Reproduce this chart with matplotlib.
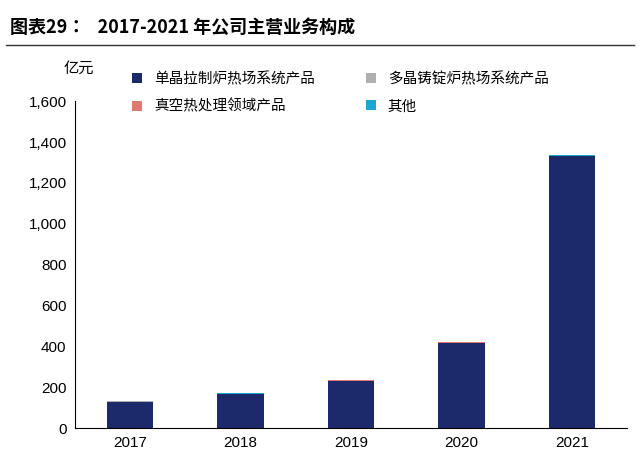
import matplotlib.pyplot as plt
import numpy as np
from matplotlib import font_manager
avail = {f.name for f in font_manager.fontManager.ttflist}
cjk = [n for n in ['Noto Sans CJK SC', 'Noto Sans CJK JP', 'Noto Sans CJK TC', 'Noto Sans CJK KR'] if n in avail]
plt.rcParams['font.family'] = cjk + ['DejaVu Sans']

years = ['2017', '2018', '2019', '2020', '2021']
mono = [130, 168, 232, 418, 1333]
poly = [1, 1, 1, 1, 1]
vacuum = [0.5, 0.5, 0.5, 0.5, 0.5]
other = [0.5, 0.5, 0.5, 0.5, 0.5]
names = ['单晶拉制炉热场系统产品', '多晶铸锭炉热场系统产品', '真空热处理领域产品', '其他']
colors = ['#1c2a6b', '#b0b0b0', '#e07a70', '#1aa7d0']

fig = plt.figure(figsize=(6.4, 4.71), dpi=100)
ax = fig.add_axes([0.117, 0.091, 0.863, 0.694])
x = np.arange(len(years))
bottom = np.zeros(len(years))
handles = []
for vals, n, c in zip([mono, poly, vacuum, other], names, colors):
    h = ax.bar(x, vals, 0.42, bottom=bottom, color=c, label=n)
    bottom += np.array(vals)
    handles.append(h)
ax.set_ylim(0, 1600)
ax.set_xlim(-0.5, 4.5)
ax.set_yticks(range(0, 1601, 200))
ax.set_yticklabels([f'{v:,}' for v in range(0, 1601, 200)], fontfamily='Liberation Sans', fontsize=11)
ax.set_xticks(x)
ax.set_xticklabels(years, fontfamily='Liberation Sans', fontsize=11)
for s in ['top', 'right']:
    ax.spines[s].set_visible(False)
ax.tick_params(length=0, pad=6)
order = [0, 2, 1, 3]
ax.legend([handles[i] for i in order], [names[i] for i in order], ncol=2, loc='upper left',
          bbox_to_anchor=(0.08, 1.13), frameon=False, fontsize=10.5, handlelength=0.7,
          handleheight=0.7, columnspacing=3.5, labelspacing=0.9)
fig.text(0.10, 0.845, '亿元', fontsize=11)
fig.text(0.015, 0.93, '图表29：   2017-2021 年公司主营业务构成', fontsize=13, fontweight='bold')
fig.add_artist(plt.Line2D([0.01, 0.99], [0.905, 0.905], color='#333333', lw=1))
fig.savefig('out.png', dpi=100)
